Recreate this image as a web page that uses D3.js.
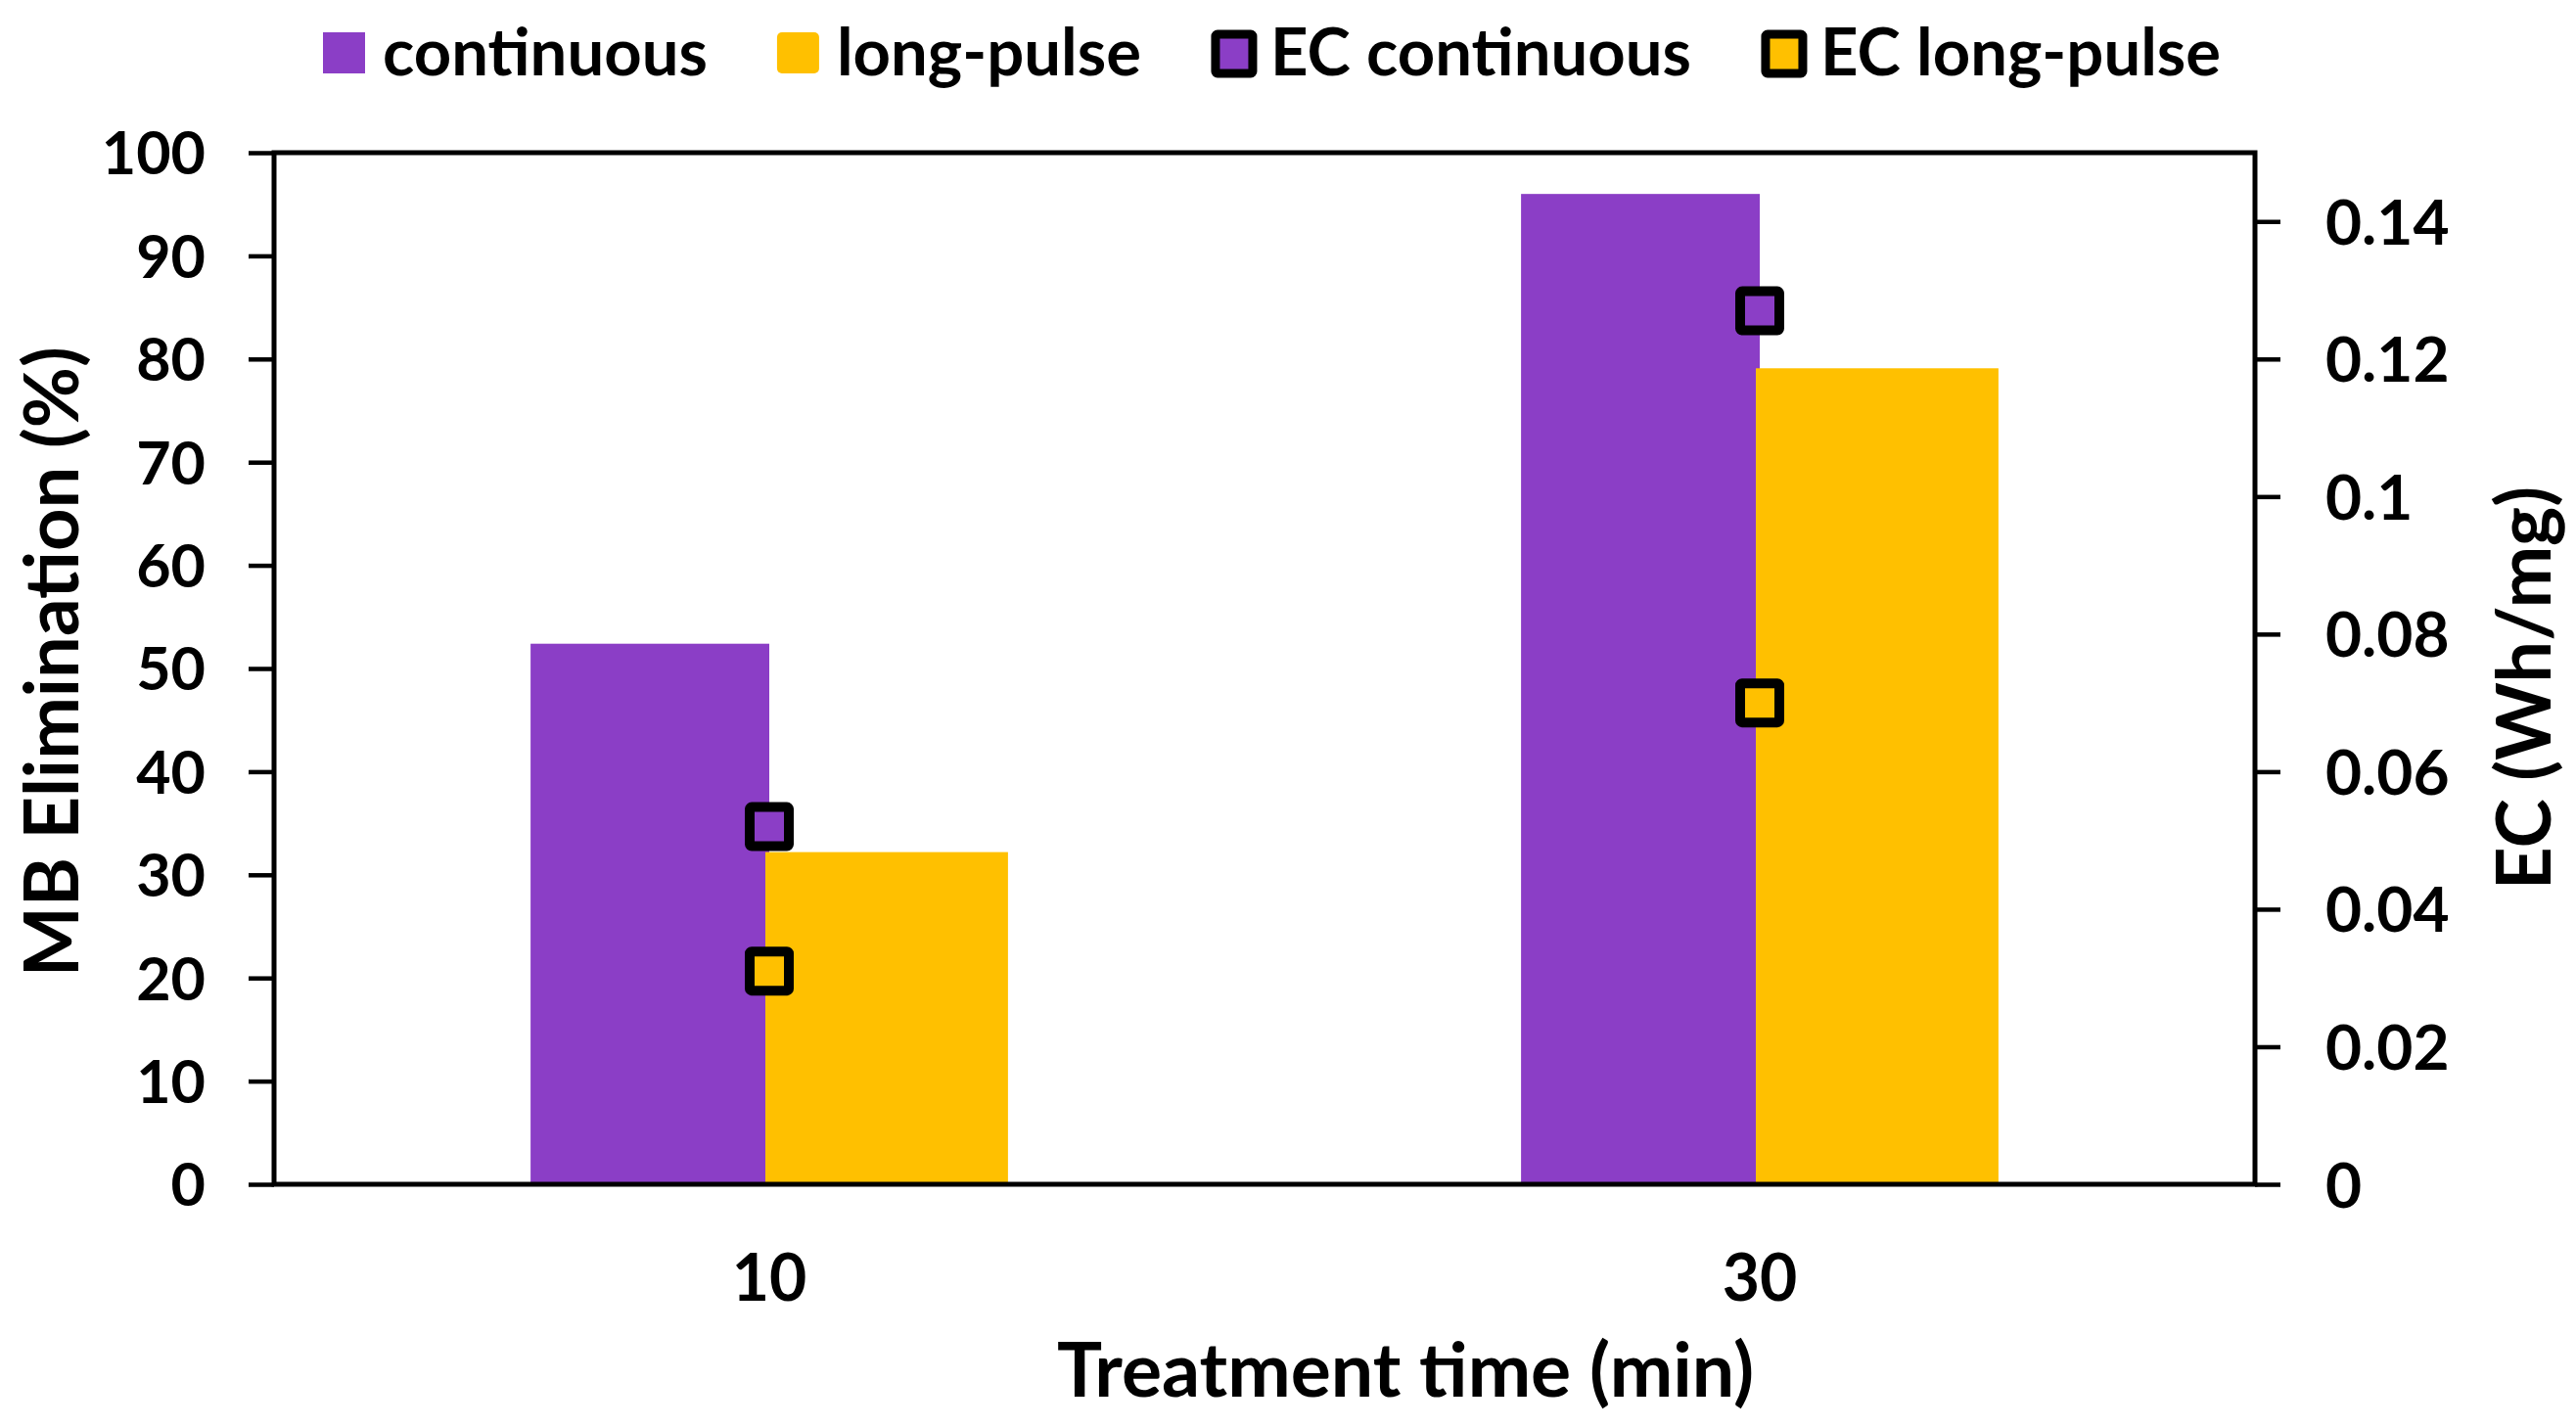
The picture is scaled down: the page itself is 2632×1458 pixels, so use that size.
<!DOCTYPE html>
<html><head><meta charset="utf-8">
<script src="https://cdn.jsdelivr.net/npm/d3@7"></script>
<style>
html,body{margin:0;padding:0;background:#fff;}
svg{display:block;font-family:Lato,"Open Sans",sans-serif;font-weight:700;}
</style></head>
<body>
<svg id="chart" width="2632" height="1458"></svg>
<script>
const categories = ["10", "30"];
const continuous = [52.4, 96.0];
const longPulse = [32.2, 79.1];
const ecContinuous = [0.052, 0.127];
const ecLongPulse = [0.031, 0.070];
const leftTicks = [0,10,20,30,40,50,60,70,80,90,100];
const rightTicks = [0,0.02,0.04,0.06,0.08,0.1,0.12,0.14];
const legendLabels = ["continuous","long-pulse","EC continuous","EC long-pulse"];

const PURPLE = "#8B3EC6", GOLD = "#FFC000";
const svg = d3.select("#chart");
const L = 280, R = 2304, T = 156, B = 1210;

const x = d3.scaleBand().domain(categories).range([L, R]).paddingInner(0).paddingOuter(0);
const y = d3.scaleLinear().domain([0,100]).range([B, T]);
const y2 = d3.scaleLinear().domain([0,0.15]).range([B, T]);
const bw = x.bandwidth()*0.241;
const cx = c => x(c) + x.bandwidth()/2;

// bars
svg.append("g").selectAll("rect").data(categories).join("rect")
  .attr("x", c => cx(c) - bw).attr("width", bw)
  .attr("y", (c,i) => y(continuous[i])).attr("height", (c,i) => B - y(continuous[i]))
  .attr("fill", PURPLE);
svg.append("g").selectAll("rect").data(categories).join("rect")
  .attr("x", c => cx(c) - 4).attr("width", bw + 4)
  .attr("y", (c,i) => y(longPulse[i])).attr("height", (c,i) => B - y(longPulse[i]))
  .attr("fill", GOLD);

// axes
const axL = svg.append("g").attr("transform", `translate(${L},0)`)
  .call(d3.axisLeft(y).tickValues(leftTicks).tickSize(26).tickPadding(44).tickFormat(d3.format("d")));
const axR = svg.append("g").attr("transform", `translate(${R},0)`)
  .call(d3.axisRight(y2).tickValues(rightTicks).tickSize(26).tickPadding(46).tickFormat(d => d===0?"0":String(+d.toFixed(2))));
[axL, axR].forEach((a,k) => {
  a.select(".domain").remove();
  a.selectAll(".tick line").attr("stroke","#000").attr("stroke-width",4.5);
  a.selectAll(".tick text").attr("fill","#000").style("font-size", k===0?"61px":"64px").style("font-family","Lato").style("font-weight","700").attr("dy","0.36em");
});
const axB = svg.append("g").attr("transform", `translate(0,${B})`)
  .call(d3.axisBottom(x).tickSize(0).tickPadding(72));
axB.select(".domain").remove();
axB.selectAll(".tick text").attr("fill","#000").style("font-size","66px").style("font-family","Lato").style("font-weight","700");

// frame
svg.append("rect").attr("x",L).attr("y",T).attr("width",R-L).attr("height",B-T)
  .attr("fill","none").attr("stroke","#000").attr("stroke-width",5);

// EC markers
function markers(vals, fill){
  svg.append("g").selectAll("rect").data(categories).join("rect")
    .attr("x", c => cx(c) - 20).attr("y", (c,i) => y2(vals[i]) - 20)
    .attr("width", 40).attr("height", 40).attr("rx", 2)
    .attr("fill", fill).attr("stroke", "#000").attr("stroke-width", 10);
}
markers(ecContinuous, PURPLE);
markers(ecLongPulse, GOLD);

// axis titles
svg.append("text").attr("x", 1436).attr("y", 1427).attr("text-anchor","middle")
  .style("font-size","77px").text("Treatment time (min)");
svg.append("text").attr("transform","translate(80,676) rotate(-90)").attr("text-anchor","middle")
  .style("font-size","76px").text("MB Elimination (%)");
svg.append("text").attr("transform","translate(2606,703) rotate(-90)").attr("text-anchor","middle")
  .style("font-size","76px").text("EC (Wh/mg)");

// legend
const lg = svg.append("g");
let lx = 330;
const legendStyles = [
  {fill:PURPLE, marker:false},{fill:GOLD, marker:false},
  {fill:PURPLE, marker:true},{fill:GOLD, marker:true}];
legendLabels.forEach((lab,i) => {
  const s = legendStyles[i];
  if (s.marker) {
    lg.append("rect").attr("x", lx+5).attr("y", 35).attr("width", 38).attr("height", 40).attr("rx",2)
      .attr("fill", s.fill).attr("stroke","#000").attr("stroke-width",9);
  } else {
    lg.append("rect").attr("x", lx).attr("y", 33).attr("width", 43).attr("height", 42).attr("rx", i===1?5:0)
      .attr("fill", s.fill);
  }
  const t = lg.append("text").attr("x", lx + 61).attr("y", 77).style("font-size","67px").text(lab);
  lx = lx + 61 + t.node().getComputedTextLength() + 71;
});
</script>
</body></html>
